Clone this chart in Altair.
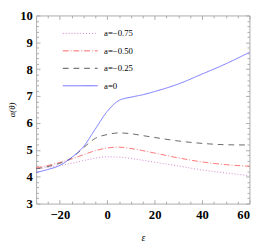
import altair as alt
import pandas as pd

eps = [-30, -25, -20, -15, -10, -5, 0, 5, 10, 15, 20, 30, 40, 50, 60]
series_labels = ["a=\u22120.75", "a=\u22120.50", "a=\u22120.25", "a=0"]
alpha_m075 = [4.29, 4.35, 4.42, 4.50, 4.60, 4.69, 4.74, 4.73, 4.68, 4.61, 4.54, 4.40, 4.25, 4.14, 4.04]
alpha_m050 = [4.33, 4.42, 4.53, 4.66, 4.82, 4.97, 5.07, 5.10, 5.05, 4.97, 4.88, 4.70, 4.55, 4.45, 4.39]
alpha_m025 = [4.29, 4.38, 4.50, 4.70, 5.08, 5.43, 5.57, 5.63, 5.60, 5.53, 5.46, 5.33, 5.24, 5.19, 5.18]
alpha_0 = [4.16, 4.27, 4.42, 4.72, 5.12, 5.78, 6.43, 6.84, 6.96, 7.05, 7.17, 7.45, 7.82, 8.20, 8.63]
colors = ["#cc77cc", "#ff6666", "#555555", "#6666ff"]
dashes = [[1, 2], [6, 2, 1, 2], [6, 5], [1, 0]]

x_major = [-20, 0, 20, 40, 60]
x_minor = [v for v in range(-30, 61, 5) if v not in x_major and v != -30]
y_major = [3, 4, 5, 6, 7, 8, 9, 10]
y_minor = [round(3 + 0.2 * i, 1) for i in range(36) if i % 5 != 0]

rows = []
for lab, vals in zip(series_labels, [alpha_m075, alpha_m050, alpha_m025, alpha_0]):
    for e, v in zip(eps, vals):
        rows.append({"eps": e, "alpha": v, "series": lab})
df = pd.DataFrame(rows)

xscale = alt.Scale(domain=[-30, 60], nice=False, zero=False)
yscale = alt.Scale(domain=[3, 10], nice=False, zero=False)
FONT = "Liberation Serif"
TICK = "#aaaaaa"

legend_cfg = dict(title=None, orient="none", legendX=39, legendY=12,
                  symbolType="M-3,0H3", symbolSize=144, symbolStrokeWidth=1,
                  labelFont=FONT, labelFontSize=9, labelColor="#000",
                  labelOffset=18, rowPadding=6)

lines = alt.Chart(df).mark_line(strokeWidth=0.9, interpolate="monotone").encode(
    x=alt.X("eps:Q", scale=xscale, axis=alt.Axis(
        values=x_major, title="\u03b5", ticks=False, domain=False, grid=False,
        labelFont=FONT, labelFontWeight="bold", labelFontSize=13, labelColor="#000",
        labelPadding=5, titleFont=FONT, titleFontStyle="italic", titleFontWeight="normal",
        titleFontSize=10, titlePadding=12, titleColor="#000")),
    y=alt.Y("alpha:Q", scale=yscale, axis=alt.Axis(
        values=y_major, title="\u03b1(\u03b8)", ticks=False, domain=False, grid=False,
        labelFont=FONT, labelFontWeight="bold", labelFontSize=13, labelColor="#000",
        labelPadding=4, titleFont=FONT, titleFontStyle="italic", titleFontWeight="normal",
        titleFontSize=9, titlePadding=3, titleColor="#000")),
    color=alt.Color("series:N", scale=alt.Scale(domain=series_labels, range=colors),
                    legend=alt.Legend(**legend_cfg)),
    strokeDash=alt.StrokeDash("series:N", scale=alt.Scale(domain=series_labels, range=dashes),
                              legend=alt.Legend(**legend_cfg)),
)


def tick_layer(xvals, yvals, xorient, yorient, size):
    return alt.Chart(df).mark_point(opacity=0).encode(
        x=alt.X("eps:Q", scale=xscale, axis=alt.Axis(
            orient=xorient, values=xvals, labels=False, domain=False, grid=False, title=None,
            tickSize=size, offset=-size, tickColor=TICK)),
        y=alt.Y("alpha:Q", scale=yscale, axis=alt.Axis(
            orient=yorient, values=yvals, labels=False, domain=False, grid=False, title=None,
            tickSize=size, offset=-size, tickColor=TICK)),
    )


chart = alt.layer(
    lines,
    tick_layer(x_major, y_major, "bottom", "left", 4),
    tick_layer(x_minor, y_minor, "bottom", "left", 2.5),
    tick_layer(x_major, y_major, "top", "right", 4),
    tick_layer(x_minor, y_minor, "top", "right", 2.5),
).resolve_axis(x="independent", y="independent").properties(
    width=220, height=194,
    autosize=alt.AutoSizeParams(type="none"),
    padding={"left": 29, "top": 4, "right": 16, "bottom": 39},
).configure_view(stroke="#aaaaaa", strokeWidth=1)

chart.save("out.html", embed_options={"renderer": "svg", "actions": False})
